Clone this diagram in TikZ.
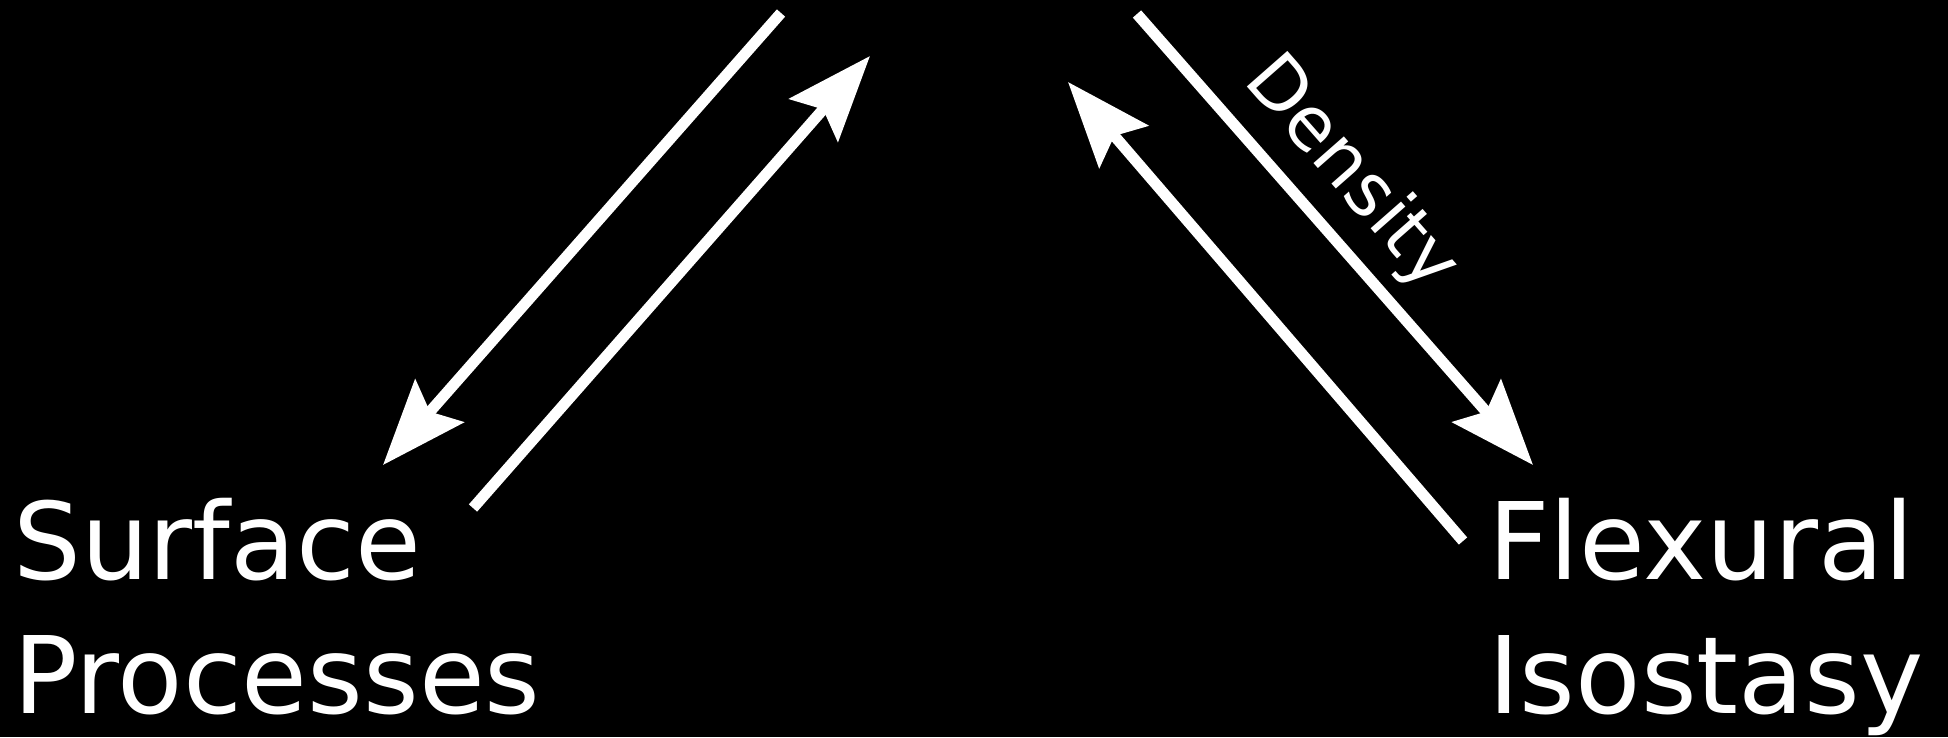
\documentclass[tikz,border=0pt]{standalone}
\usepackage{fontspec}
\setmainfont{DejaVu Sans}
\usetikzlibrary{arrows.meta}
\begin{document}
\begin{tikzpicture}[x=1pt,y=-1pt,
  flow/.style={draw=white, line width=11pt, -{Stealth[length=85pt,width=64pt,inset=14pt]}},
  big/.style={text=white, inner sep=0pt, anchor=base west, align=left, font=\fontsize{107}{134}\selectfont},
  lbl/.style={text=white, inner sep=0pt, font=\fontsize{74}{88}\selectfont}]
\path[use as bounding box, fill=black] (0,0) rectangle (1948,737);
\node[big] (sp) at (13,713) {Surface\\Processes};
\node[big] (fi) at (1488,713) {Flexural\\Isostasy};
\coordinate (a1s) at (781,13);
\coordinate (a1e) at (383,465);
\coordinate (a2s) at (473,508);
\coordinate (a2e) at (870,56);
\coordinate (a3s) at (1137,14);
\coordinate (a3e) at (1533,465);
\coordinate (a4s) at (1463,541);
\coordinate (a4e) at (1068,82);
\draw[flow] (a1s) -- (a1e);
\draw[flow] (a2s) -- (a2e);
\draw[flow] (a3s) -- node[lbl, pos=0.435, sloped, above=13.5pt] (den) {Density} (a3e);
\draw[flow] (a4s) -- (a4e);
\end{tikzpicture}
\end{document}
